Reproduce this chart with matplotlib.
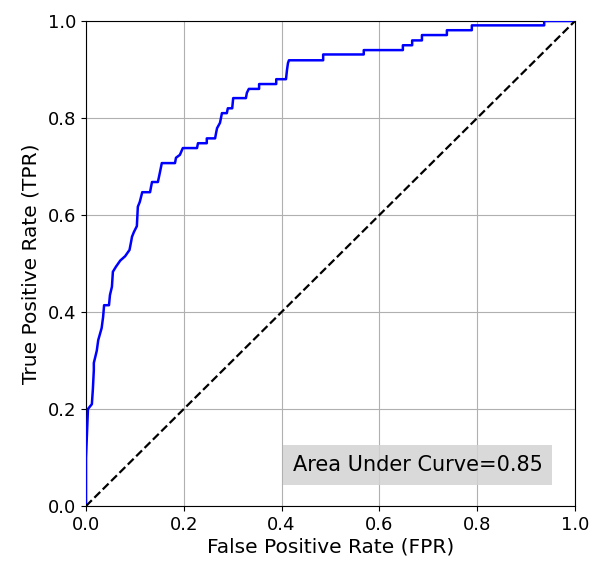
import matplotlib
matplotlib.use("Agg")
import matplotlib.pyplot as plt

fpr = [0.0, 0.0, 0.004, 0.008, 0.012, 0.014, 0.016, 0.016, 0.022, 0.025, 0.032, 0.035, 0.037,
       0.047, 0.049, 0.053, 0.055, 0.061, 0.070, 0.080, 0.089, 0.093, 0.094, 0.098, 0.104,
       0.106, 0.110, 0.115, 0.131, 0.133, 0.135, 0.147, 0.151, 0.155, 0.182, 0.184, 0.192,
       0.198, 0.227, 0.229, 0.247, 0.247, 0.264, 0.266, 0.268, 0.274, 0.278, 0.288, 0.290,
       0.299, 0.301, 0.327, 0.329, 0.333, 0.354, 0.354, 0.389, 0.389, 0.409, 0.411, 0.413,
       0.415, 0.485, 0.485, 0.568, 0.568, 0.648, 0.648, 0.667, 0.667, 0.687, 0.687, 0.738,
       0.738, 0.789, 0.789, 0.937, 0.937, 1.0]
tpr = [0.0, 0.099, 0.200, 0.205, 0.210, 0.240, 0.280, 0.295, 0.320, 0.342, 0.367, 0.390, 0.414,
       0.414, 0.435, 0.452, 0.483, 0.493, 0.506, 0.515, 0.528, 0.549, 0.555, 0.565, 0.577,
       0.617, 0.627, 0.647, 0.647, 0.658, 0.668, 0.668, 0.687, 0.707, 0.707, 0.718, 0.724,
       0.738, 0.738, 0.748, 0.748, 0.758, 0.758, 0.769, 0.779, 0.790, 0.810, 0.810, 0.820,
       0.820, 0.841, 0.841, 0.852, 0.860, 0.860, 0.870, 0.870, 0.880, 0.880, 0.899, 0.913,
       0.919, 0.919, 0.931, 0.931, 0.940, 0.940, 0.950, 0.950, 0.960, 0.960, 0.971, 0.971,
       0.981, 0.981, 0.991, 0.991, 1.0, 1.0]
auc_label = "Area Under Curve=0.85"

fig = plt.figure(figsize=(5.92, 5.61), dpi=100)
ax = fig.add_axes([86/592, 1-506/561, (575-86)/592, (506-21)/561])
ax.plot(fpr, tpr, color="blue", linewidth=1.8, zorder=3)
ax.plot([0, 1], [0, 1], "k--", linewidth=1.6, zorder=3)
ax.set_xlim(0, 1)
ax.set_ylim(0, 1)
ax.grid(True, color="#b0b0b0", linewidth=0.8)
ax.set_axisbelow(True)
ax.tick_params(labelsize=13)
ax.set_xlabel("False Positive Rate (FPR)", fontsize=14.5, labelpad=3)
ax.set_ylabel("True Positive Rate (TPR)", fontsize=14.5, labelpad=5)
ax.text(0.678, 0.085, auc_label, fontsize=15, ha="center", va="center",
        bbox=dict(facecolor="lightgray", alpha=0.85, edgecolor="none", pad=7.2), zorder=4)
fig.savefig("out.png", dpi=100)
